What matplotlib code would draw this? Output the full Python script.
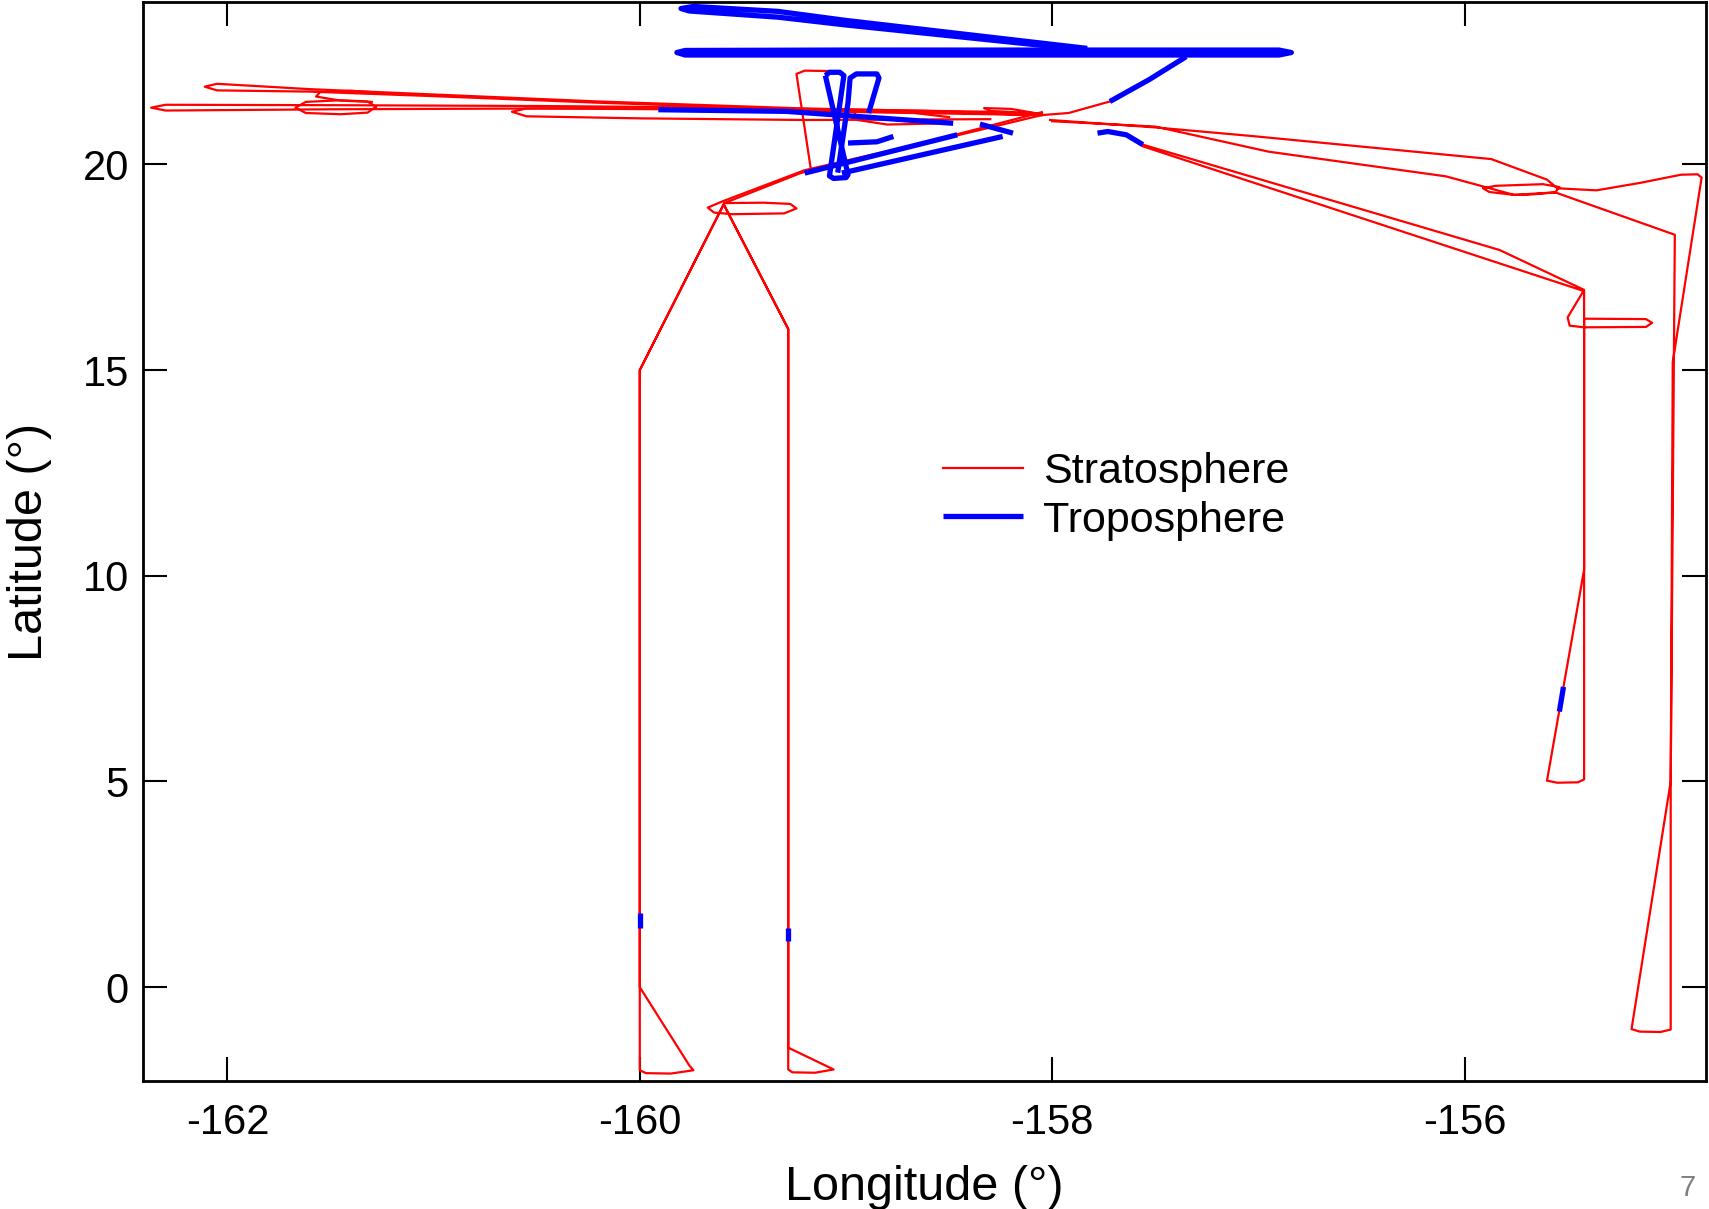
import matplotlib

matplotlib.use("Agg")
import matplotlib.pyplot as plt

# flight tracks (lon, lat in degrees)
# stratosphere legs
west_top_lon = [-158.05, -158.6, -159.2, -160.2, -161.0, -161.6, -162.05, -162.11, -162.05, -161.6, -161.0, -160.2, -159.2, -158.6, -158.05]
west_top_lat = [21.22, 21.30, 21.36, 21.53, 21.70, 21.83, 21.96, 21.89, 21.80, 21.77, 21.66, 21.50, 21.33, 21.27, 21.22]

west_long_lon = [-158.05, -158.8, -159.5, -160.5, -161.5, -162.3, -162.37, -162.3, -161.5, -160.5, -159.5, -158.8, -158.05]
west_long_lat = [21.20, 21.30, 21.38, 21.42, 21.44, 21.45, 21.38, 21.31, 21.34, 21.36, 21.33, 21.26, 21.20]

west_low_lon = [-158.3, -159.2, -160.0, -160.55, -160.62, -160.55, -160.0, -159.2, -158.3]
west_low_lat = [21.10, 21.08, 21.12, 21.17, 21.28, 21.36, 21.37, 21.35, 21.28]

oval1_lon = [-161.28, -161.32, -161.45, -161.62, -161.67, -161.62, -161.45, -161.32, -161.28]
oval1_lat = [21.40, 21.53, 21.56, 21.52, 21.38, 21.25, 21.22, 21.26, 21.40]

oval2_lon = [-161.30, -161.45, -161.57, -161.55, -161.40, -161.28]
oval2_lat = [21.52, 21.55, 21.65, 21.76, 21.79, 21.75]

near_j_lon = [-158.05, -158.2, -158.33, -158.3, -158.1, -158.05]
near_j_lat = [21.22, 21.35, 21.37, 21.30, 21.25, 21.22]

cluster_oval_lon = [-158.5, -158.75, -158.95, -158.97, -158.8, -158.5]
cluster_oval_lat = [21.15, 21.30, 21.30, 21.10, 20.97, 21.00]

cluster_red_lon = [-159.17, -159.24, -159.20, -159.08]
cluster_red_lat = [19.87, 22.20, 22.28, 22.27]

flight_a_lon = [-158.05, -159.22, -159.59, -160.0, -160.0, -159.97, -159.85, -159.74, -159.76, -160.0, -160.0, -159.59]
flight_a_lat = [21.20, 19.79, 19.06, 15.0, -2.02, -2.09, -2.10, -2.02, -1.90, 0.0, 15.0, 19.06]

loop19_lon = [-159.59, -159.40, -159.27, -159.24, -159.30, -159.55, -159.64, -159.67, -159.60, -159.20, -158.6, -158.05]
loop19_lat = [19.06, 19.07, 19.04, 18.93, 18.81, 18.79, 18.83, 18.95, 19.10, 19.86, 20.55, 21.27]

flight_b_lon = [-159.59, -159.28, -159.28, -159.26, -159.15, -159.06, -159.28, -159.28, -159.59]
flight_b_lat = [19.00, 16.0, -2.00, -2.07, -2.08, -2.00, -1.47, 16.0, 19.00]

flight_c_lon = [-157.56, -155.83, -155.42, -155.50, -155.49, -155.42, -155.12, -155.09, -155.12, -155.42,
                -155.42, -155.45, -155.55, -155.60, -155.42, -155.42, -157.56]
flight_c_lat = [20.48, 17.92, 16.95, 16.28, 16.08, 16.04, 16.05, 16.15, 16.24, 16.25,
                5.05, 4.98, 4.97, 5.02, 10.15, 16.92, 20.44]

flight_d_lon = [-158.01, -157.5, -157.03, -155.87, -155.60, -155.55, -155.36, -155.15, -154.95, -154.87, -154.85,
                -154.99, -155.0, -155.19, -155.15, -155.05, -155.0, -155.0, -154.98, -155.56, -155.70, -155.76,
                -155.88, -155.91, -155.85, -155.62, -155.54, -155.56, -155.76, -156.09, -156.95, -157.5, -158.0]
flight_d_lat = [21.08, 20.90, 20.69, 20.13, 19.63, 19.42, 19.37, 19.55, 19.75, 19.76, 19.68,
                15.2, 5.0, -1.02, -1.08, -1.09, -1.03, 5.0, 18.29, 19.32, 19.26, 19.26,
                19.33, 19.42, 19.48, 19.52, 19.45, 19.32, 19.26, 19.71, 20.31, 20.92, 21.05]

descent_red_lon = [-157.72, -157.92, -158.05]
descent_red_lat = [21.53, 21.25, 21.20]

# troposphere legs
tropo_upper_lon = [-157.83, -159.0, -159.33, -159.76, -159.80, -159.74, -159.33, -159.0, -157.83]
tropo_upper_lat = [22.78, 23.39, 23.58, 23.73, 23.79, 23.84, 23.72, 23.50, 22.82]

tropo_band_lon = [-157.35, -156.90, -156.84, -156.90, -157.5, -159.0, -159.78, -159.82, -159.78, -159.0, -157.5, -157.35]
tropo_band_lat = [22.66, 22.66, 22.72, 22.78, 22.78, 22.78, 22.77, 22.72, 22.66, 22.66, 22.66, 22.66]

tropo_descent_lon = [-157.35, -157.53, -157.72]
tropo_descent_lat = [22.62, 22.06, 21.53]

tropo_west_lon = [-159.91, -159.29, -158.48]
tropo_west_lat = [21.33, 21.29, 21.00]

tropo_west2_lon = [-158.35, -158.19]
tropo_west2_lat = [20.98, 20.76]

tropo_hour_lon = [-159.10, -159.08, -159.03, -159.01, -159.08, -159.06, -159.00, -158.99, -159.10]
tropo_hour_lat = [22.16, 22.24, 22.24, 22.16, 19.72, 19.66, 19.68, 19.75, 22.16]

tropo_loop_lon = [-159.04, -158.99, -158.98, -158.95, -158.85, -158.84, -158.89]
tropo_loop_lat = [19.80, 21.50, 22.10, 22.20, 22.20, 22.10, 21.25]

tropo_arm_lon = [-158.99, -158.85, -158.77]
tropo_arm_lat = [20.52, 20.55, 20.68]

tropo_diag1_lon = [-159.20, -158.46]
tropo_diag1_lat = [19.79, 20.72]

tropo_diag2_lon = [-159.02, -158.24]
tropo_diag2_lat = [19.79, 20.68]

tropo_c_lon = [-157.78, -157.73, -157.64, -157.56]
tropo_c_lat = [20.76, 20.80, 20.72, 20.48]

tropo_a_lon = [-160.0, -160.0]
tropo_a_lat = [1.45, 1.80]

tropo_b_lon = [-159.28, -159.28]
tropo_b_lat = [1.12, 1.45]

tropo_c2_lon = [-155.54, -155.52]
tropo_c2_lat = [6.70, 7.30]

strat_tracks = [
    (west_top_lon, west_top_lat), (west_long_lon, west_long_lat), (west_low_lon, west_low_lat),
    (oval1_lon, oval1_lat), (oval2_lon, oval2_lat), (near_j_lon, near_j_lat),
    (cluster_oval_lon, cluster_oval_lat), (cluster_red_lon, cluster_red_lat),
    (flight_a_lon, flight_a_lat), (loop19_lon, loop19_lat), (flight_b_lon, flight_b_lat),
    (flight_c_lon, flight_c_lat), (flight_d_lon, flight_d_lat), (descent_red_lon, descent_red_lat),
]
tropo_tracks = [
    (tropo_upper_lon, tropo_upper_lat), (tropo_band_lon, tropo_band_lat),
    (tropo_descent_lon, tropo_descent_lat), (tropo_west_lon, tropo_west_lat),
    (tropo_west2_lon, tropo_west2_lat), (tropo_hour_lon, tropo_hour_lat),
    (tropo_loop_lon, tropo_loop_lat), (tropo_arm_lon, tropo_arm_lat),
    (tropo_diag1_lon, tropo_diag1_lat), (tropo_diag2_lon, tropo_diag2_lat),
    (tropo_c_lon, tropo_c_lat), (tropo_a_lon, tropo_a_lat), (tropo_b_lon, tropo_b_lat),
    (tropo_c2_lon, tropo_c2_lat),
]

x_ticks = [-162, -160, -158, -156]
y_ticks = [0, 5, 10, 15, 20]


def main():
    plt.rcParams["font.family"] = ["Liberation Sans", "DejaVu Sans"]
    plt.rcParams["axes.unicode_minus"] = False

    fig = plt.figure(figsize=(17.09, 12.09), dpi=100)
    ax = fig.add_axes([0.0836, 0.1059, 0.9145, 0.8925])

    for i, (lon, lat) in enumerate(strat_tracks):
        ax.plot(lon, lat, color="#ff0000", lw=1.6, solid_joinstyle="round",
                label="Stratosphere" if i == 0 else None, zorder=2)
    for i, (lon, lat) in enumerate(tropo_tracks):
        ax.plot(lon, lat, color="#0000ff", lw=3.8, solid_capstyle="butt",
                solid_joinstyle="round", label="Troposphere" if i == 0 else None, zorder=3)

    ax.set_xlim(-162.41, -154.83)
    ax.set_ylim(-2.28, 23.95)
    ax.set_xticks(x_ticks)
    ax.set_yticks(y_ticks)
    ax.tick_params(direction="in", length=17, width=1.5, top=True, right=True,
                   labelsize=30, pad=16)
    ax.tick_params(axis="y", pad=10)
    for s in ax.spines.values():
        s.set_linewidth(2)

    ax.set_xlabel("Longitude (°)", fontsize=35, labelpad=16)
    ax.set_ylabel("Latitude (°)", fontsize=35, labelpad=22)

    ax.legend(loc="upper left", bbox_to_anchor=(0.512, 0.583), frameon=False,
              fontsize=31, handlelength=1.86, handletextpad=0.46, labelspacing=0.2,
              borderpad=0, borderaxespad=0)

    fig.text(0.992, 0.011, "7", color="#808080", fontsize=21, ha="right")

    fig.savefig("out.png", dpi=100)
    plt.close(fig)


if __name__ == "__main__":
    main()
